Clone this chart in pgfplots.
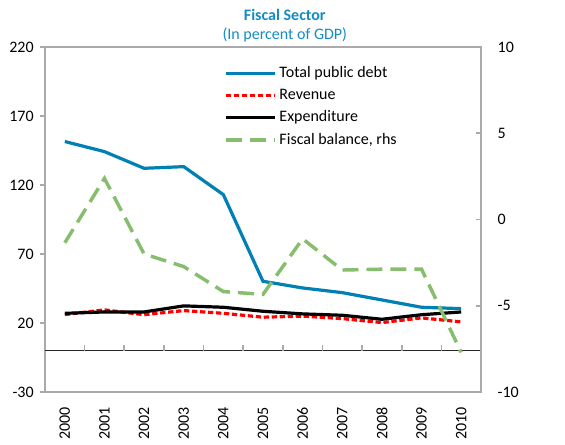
\documentclass[border=0pt]{standalone}
\usepackage{fontspec}
\setmainfont{Carlito}
\usepackage{pgfplots}
\usepackage{pgfplotstable}
\pgfplotsset{compat=1.18}

\definecolor{debtblue}{RGB}{0,128,180}
\definecolor{balgreen}{RGB}{135,190,110}
\definecolor{titleblue}{RGB}{20,140,195}
\definecolor{framegray}{RGB}{170,170,170}

% year index, debt, revenue, expenditure (lhs), fiscal balance (rhs)
\pgfplotstableread{
idx debt  rev  exp  bal
0   151.5 26.1 27.0 -1.35
1   144.2 29.5 28.0  2.38
2   132.1 26.0 28.0 -2.00
3   133.3 29.0 32.4 -2.73
4   113.0 27.0 31.4 -4.18
5    50.2 24.2 28.5 -4.34
6    45.4 25.0 26.6 -1.12
7    42.0 23.2 25.6 -2.93
8    36.7 20.3 22.7 -2.88
9    31.4 23.7 26.0 -2.88
10   30.4 20.8 28.0 -7.70
}\fiscal

\begin{document}
\begin{tikzpicture}
\pgfplotsset{
  every axis/.append style={
    scale only axis, width=327pt, height=258.75pt,
    xmin=-0.5, xmax=10.5,
    clip=false,
    font=\fontsize{12}{14}\selectfont,
    /pgf/number format/assume math mode=true,
    axis line style={framegray, line width=1.5pt},
    major tick length=4pt,
    every tick/.style={framegray, line width=1.2pt},
  }
}
\begin{axis}[
  ymin=-30, ymax=220,
  ytick={-30,20,70,120,170,220},
  ytick pos=left, ytick align=outside,
  xtick={0,...,10},
  xticklabels={2000,2001,2002,2003,2004,2005,2006,2007,2008,2009,2010},
  xtick style={draw=none},
  x tick label style={rotate=90, anchor=east},
  xticklabel shift=8pt,
  yticklabel style={xshift=-1pt},
  legend style={draw=none, fill=none, at={(0.41,0.951)}, anchor=north west,
    font=\fontsize{12}{14}\selectfont, row sep=3pt, inner sep=0pt},
  legend cell align=left,
  legend image code/.code={\draw[#1] (0pt,0pt) -- (37pt,0pt);},
]
\draw[black!85, line width=1pt] (axis cs:-0.5,0) -- (axis cs:10.5,0);
\pgfplotsinvokeforeach{0,...,9}{
  \draw[framegray, line width=1.2pt] (axis cs:#1.5,0) -- ++(0pt,4.5pt);
}
\addplot[debtblue, line width=2.4pt] table[x=idx, y=debt] {\fiscal};
\addlegendentry{Total public debt}
\addplot[red, line width=2.4pt, dash pattern=on 4pt off 2pt] table[x=idx, y=rev] {\fiscal};
\addlegendentry{Revenue}
\addplot[black, line width=2.4pt] table[x=idx, y=exp] {\fiscal};
\addlegendentry{Expenditure}
\addlegendimage{balgreen, line width=2.6pt, dash pattern=on 12pt off 6pt}
\addlegendentry{Fiscal balance, rhs}
\node[font=\fontsize{12}{14}\selectfont\bfseries, text=titleblue]
  at (rel axis cs:0.55,1.094) {Fiscal Sector};
\node[font=\fontsize{12}{14}\selectfont, text=titleblue]
  at (rel axis cs:0.55,1.036) {(In percent of GDP)};
\end{axis}
\begin{axis}[
  ymin=-10, ymax=10,
  ytick={-10,-5,0,5,10},
  axis y line*=right, ytick align=inside,
  axis x line=none,
  yticklabel style={anchor=west, xshift=9pt},
]
\addplot[balgreen, line width=2.6pt, dash pattern=on 12pt off 6pt] table[x=idx, y=bal] {\fiscal};
\end{axis}
\path ([xshift=-33.75pt,yshift=-37.5pt]current axis.south west)
  rectangle ([xshift=63pt,yshift=35.25pt]current axis.north east);
\end{tikzpicture}
\end{document}
